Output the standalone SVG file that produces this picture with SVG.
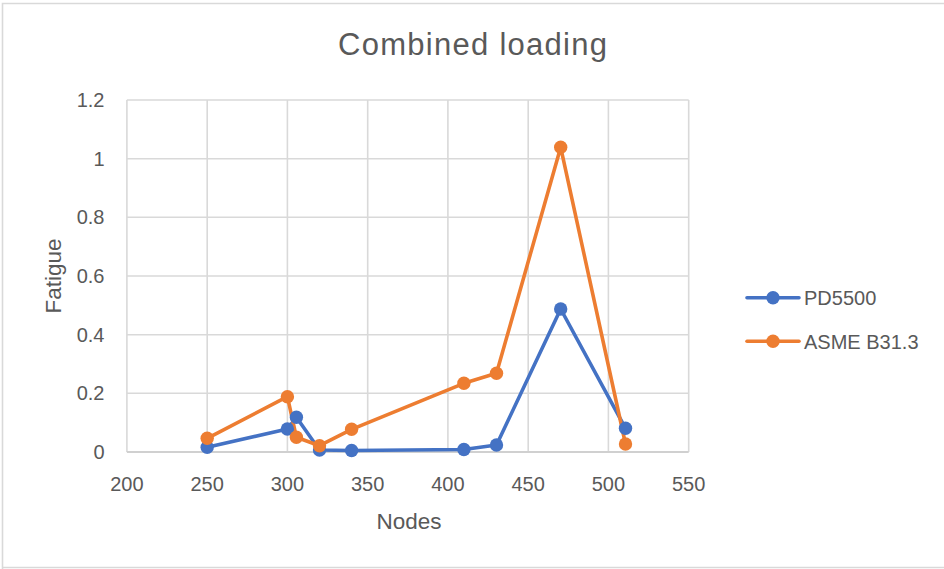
<svg xmlns="http://www.w3.org/2000/svg" width="944" height="569" viewBox="0 0 944 569">
  <style>
    .grid { stroke: #d9d9d9; stroke-width: 1.6; fill: none; }
    .axis { stroke: #d0d0d0; stroke-width: 1.8; fill: none; }
    .tick { font-family: "Liberation Sans", Arial, sans-serif; font-size: 20px; fill: #595959; }
    .ytick { text-anchor: end; }
    .xtick { text-anchor: middle; }
    .title { font-family: "Liberation Sans", Arial, sans-serif; font-size: 31px; fill: #595959; text-anchor: middle; }
    .axtitle { font-family: "Liberation Sans", Arial, sans-serif; font-size: 22.5px; fill: #595959; text-anchor: middle; }
    .legend { font-family: "Liberation Sans", Arial, sans-serif; font-size: 20px; fill: #595959; }
    .pd { stroke: #4472c4; stroke-width: 3.6; fill: none; stroke-linejoin: round; stroke-linecap: round; }
    .asme { stroke: #ed7d31; stroke-width: 3.6; fill: none; stroke-linejoin: round; stroke-linecap: round; }
    .pdm { fill: #4472c4; }
    .asmem { fill: #ed7d31; }
  </style>

  <!-- chart area -->
  <rect x="0" y="0" width="944" height="569" fill="#ffffff"/>
  <path d="M2.5 569 V3.5 H944 M2.5 567.5 H944" stroke="#d9d9d9" stroke-width="1.6" fill="none"/>

  <!-- title -->
  <text class="title" x="472.5" y="55" textLength="269" lengthAdjust="spacing">Combined loading</text>

  <!-- gridlines -->
  <g id="gridlines">
    <path class="grid" d="M126.9 100 H688.7 M126.9 158.7 H688.7 M126.9 217.3 H688.7 M126.9 276 H688.7 M126.9 334.7 H688.7 M126.9 393.3 H688.7"/>
    <path class="grid" d="M126.9 100 V452 M207.2 100 V452 M287.4 100 V452 M367.7 100 V452 M447.9 100 V452 M528.2 100 V452 M608.4 100 V452 M688.7 100 V452"/>
    <path class="axis" d="M126.9 452 H688.7"/>
  </g>

  <!-- y axis labels -->
  <g id="y-axis">
    <text class="tick ytick" x="104.5" y="459">0</text>
    <text class="tick ytick" x="104.5" y="400.3">0.2</text>
    <text class="tick ytick" x="104.5" y="341.7">0.4</text>
    <text class="tick ytick" x="104.5" y="283">0.6</text>
    <text class="tick ytick" x="104.5" y="224.3">0.8</text>
    <text class="tick ytick" x="104.5" y="165.7">1</text>
    <text class="tick ytick" x="104.5" y="107">1.2</text>
    <text class="axtitle" transform="translate(60.5 276) rotate(-90)">Fatigue</text>
  </g>

  <!-- x axis labels -->
  <g id="x-axis">
    <text class="tick xtick" x="126.9" y="490.5">200</text>
    <text class="tick xtick" x="207.2" y="490.5">250</text>
    <text class="tick xtick" x="287.4" y="490.5">300</text>
    <text class="tick xtick" x="367.7" y="490.5">350</text>
    <text class="tick xtick" x="447.9" y="490.5">400</text>
    <text class="tick xtick" x="528.2" y="490.5">450</text>
    <text class="tick xtick" x="608.4" y="490.5">500</text>
    <text class="tick xtick" x="688.7" y="490.5">550</text>
    <text class="axtitle" x="409" y="529.3">Nodes</text>
  </g>

  <!-- data series -->
  <g id="connectors">
    <polyline id="pd5500-line" class="pd" points="207.2,447.3 287.4,429 296.4,417.3 319.5,450 351.6,450.5 463.9,449.5 496.5,445 560.7,309 625.5,428.3"/>
    <polyline id="asme-line" class="asme" points="207.2,438.3 287.4,396.7 296.4,437.3 319.5,445.7 351.6,429.3 463.9,383.3 496.5,373.3 560.7,147.3 625.5,444"/>
  </g>

  <g id="pd5500-points" class="pdm">
    <circle cx="207.2" cy="447.3" r="6.7"/>
    <circle cx="287.4" cy="429" r="6.7"/>
    <circle cx="296.4" cy="417.3" r="6.7"/>
    <circle cx="319.5" cy="450" r="6.7"/>
    <circle cx="351.6" cy="450.5" r="6.7"/>
    <circle cx="463.9" cy="449.5" r="6.7"/>
    <circle cx="496.5" cy="445" r="6.7"/>
    <circle cx="560.7" cy="309" r="6.7"/>
    <circle cx="625.5" cy="428.3" r="6.7"/>
  </g>

  <g id="asme-points" class="asmem">
    <circle cx="207.2" cy="438.3" r="6.7"/>
    <circle cx="287.4" cy="396.7" r="6.7"/>
    <circle cx="296.4" cy="437.3" r="6.7"/>
    <circle cx="319.5" cy="445.7" r="6.7"/>
    <circle cx="351.6" cy="429.3" r="6.7"/>
    <circle cx="463.9" cy="383.3" r="6.7"/>
    <circle cx="496.5" cy="373.3" r="6.7"/>
    <circle cx="560.7" cy="147.3" r="6.7"/>
    <circle cx="625.5" cy="444" r="6.7"/>
  </g>

  <!-- legend -->
  <g id="legend">
    <g id="legend-pd5500">
      <path class="pd" d="M747 297.7 H799"/>
      <circle class="pdm" cx="773" cy="297.7" r="6.7"/>
      <text class="legend" x="804" y="304.8">PD5500</text>
    </g>
    <g id="legend-asme">
      <path class="asme" d="M747 341.3 H799"/>
      <circle class="asmem" cx="773" cy="341.3" r="6.7"/>
      <text class="legend" x="804" y="349">ASME B31.3</text>
    </g>
  </g>
</svg>
